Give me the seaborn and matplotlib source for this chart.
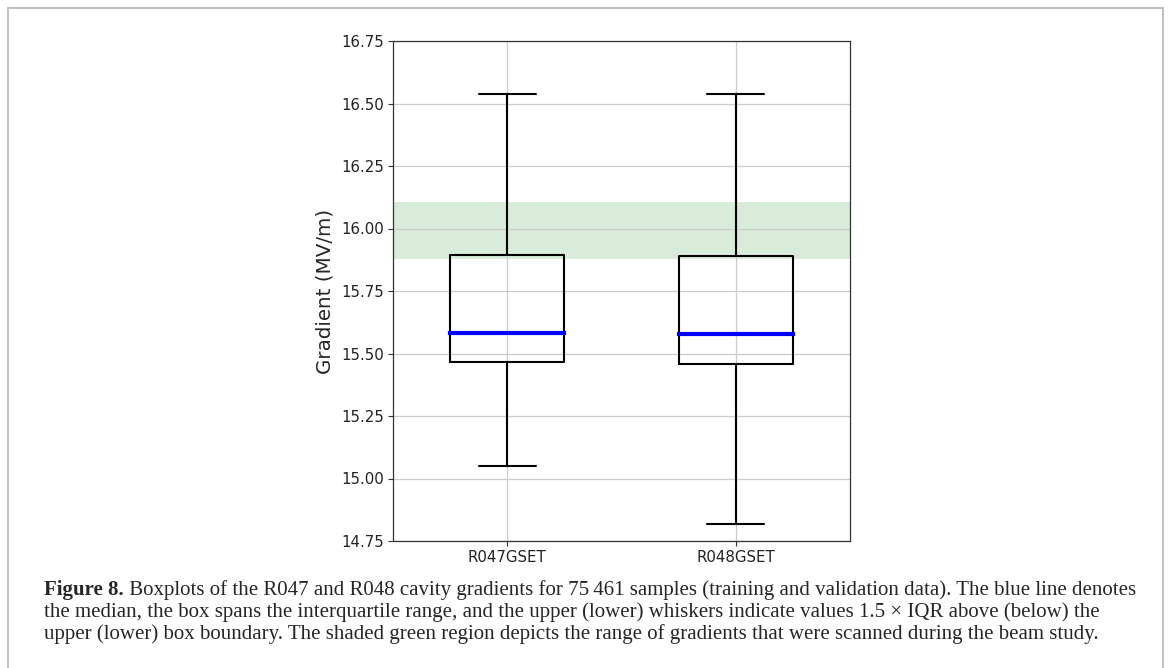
import numpy as np
import pandas as pd
import matplotlib
matplotlib.use("Agg")
import matplotlib.pyplot as plt
import seaborn as sns
from matplotlib.patches import Rectangle

# ---- data (five-number summaries) ----
channels = ["R047GSET", "R048GSET"]
r047_stats = [15.05, 15.467, 15.582, 15.895, 16.54]   # whisker low, Q1, median, Q3, whisker high
r048_stats = [14.82, 15.460, 15.578, 15.890, 16.54]
scan_range = [15.878, 16.106]                          # shaded green region
y_ticks = [14.75, 15.00, 15.25, 15.50, 15.75, 16.00, 16.25, 16.50, 16.75]

caption_bold = "Figure 8."
caption_lines = [
    " Boxplots of the R047 and R048 cavity gradients for 75\u2009461 samples (training and validation data). The blue line denotes",
    "the median, the box spans the interquartile range, and the upper (lower) whiskers indicate values 1.5 \u00d7 IQR above (below) the",
    "upper (lower) box boundary. The shaded green region depicts the range of gradients that were scanned during the beam study.",
]

df = pd.DataFrame({
    "channel": np.repeat(channels, 5),
    "gradient": np.concatenate([r047_stats, r048_stats]),
})

sns.set_style("ticks")
plt.rcParams["font.family"] = ["DejaVu Sans"]

fig = plt.figure(figsize=(11.7, 6.68), dpi=100)
ax = fig.add_axes([393 / 1170, 1 - 541 / 668, (850 - 393) / 1170, 500 / 668])

ax.axhspan(scan_range[0], scan_range[1], color="green", alpha=0.15, lw=0, zorder=0.5)

sns.boxplot(
    data=df, x="channel", y="gradient", ax=ax,
    width=0.5, fill=False, color="black", linewidth=1.5,
    whis=(0, 100),
    medianprops=dict(color="blue", linewidth=3, solid_capstyle="projecting"),
    boxprops=dict(color="black"),
    whiskerprops=dict(color="black"),
    capprops=dict(color="black"),
)

ax.set_xlim(-0.5, 1.5)
ax.set_ylim(y_ticks[0], y_ticks[-1])
ax.set_yticks(y_ticks)
ax.set_yticklabels([f"{t:.2f}" for t in y_ticks])
ax.grid(True, color="#cccccc", linewidth=0.9, zorder=0.8)
ax.set_axisbelow(True)
ax.set_xlabel("")
ax.set_ylabel("Gradient (MV/m)", fontsize=14.3, labelpad=5)
ax.tick_params(axis="both", labelsize=10.8, length=3.5, width=0.8, pad=3,
               color="#333333", labelcolor="#222222")
for s in ax.spines.values():
    s.set_visible(True)
    s.set_color("#333333")
    s.set_linewidth(0.9)

# outer frame (top, left, right visible; bottom runs past the image)
fig.patches.append(Rectangle((8 / 1170, -0.1), (1163 - 8) / 1170, 1.1 - 8 / 668,
                             transform=fig.transFigure, fill=False,
                             edgecolor="#bbbbbb", linewidth=1.3))

# caption
cap_fs = 15.0
serif = ["Liberation Serif", "DejaVu Serif"]
x0 = 44 / 1170
baselines = [1 - 595 / 668, 1 - 617 / 668, 1 - 639 / 668]
tb = fig.text(x0, baselines[0], caption_bold, fontsize=cap_fs, family=serif,
              fontweight="bold", va="baseline", ha="left")
fig.canvas.draw()
bb = tb.get_window_extent()
x1 = bb.x1 / fig.bbox.width
fig.text(x1, baselines[0], caption_lines[0], fontsize=cap_fs, family=serif, va="baseline", ha="left")
fig.text(x0, baselines[1], caption_lines[1], fontsize=cap_fs, family=serif, va="baseline", ha="left")
fig.text(x0, baselines[2], caption_lines[2], fontsize=cap_fs, family=serif, va="baseline", ha="left")

fig.savefig("out.png", dpi=100)
